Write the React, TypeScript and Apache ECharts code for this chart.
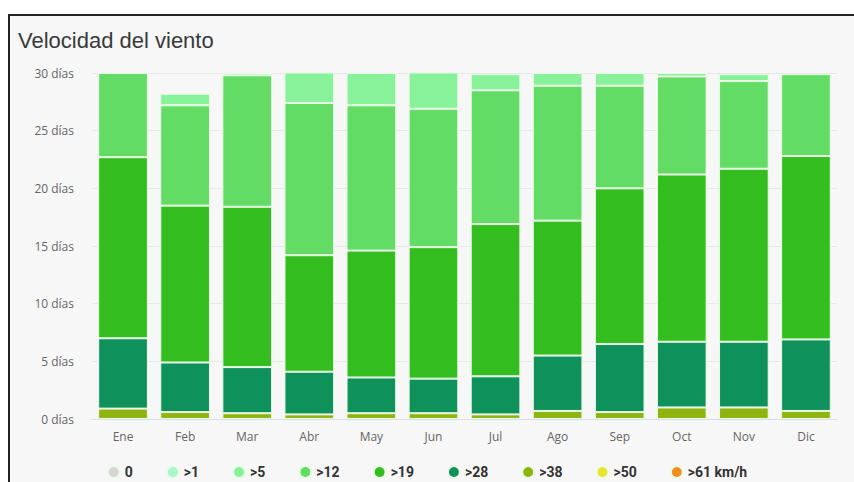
import React, { useEffect, useRef } from "react";
import * as echarts from "echarts";

const months = ["Ene", "Feb", "Mar", "Abr", "May", "Jun", "Jul", "Ago", "Sep", "Oct", "Nov", "Dic"];

// Days per month in each wind-speed class (km/h)
const calm0 = [0, 0, 0, 0, 0, 0, 0, 0, 0, 0, 0, 0];
const over1 = [0, 0, 0, 0, 0, 0, 0, 0, 0, 0, 0, 0];
const over5 = [0, 1.0, 0.2, 2.7, 2.8, 3.2, 1.4, 1.1, 1.1, 0.3, 0.6, 0];
const over12 = [7.3, 8.7, 11.4, 13.2, 12.6, 12.0, 11.6, 11.7, 8.9, 8.5, 7.6, 7.1];
const over19 = [15.7, 13.6, 13.9, 10.1, 11.0, 11.4, 13.2, 11.7, 13.5, 14.5, 15.0, 15.9];
const over28 = [6.1, 4.3, 4.0, 3.7, 3.1, 3.0, 3.3, 4.8, 5.9, 5.7, 5.7, 6.2];
const over38 = [0.9, 0.6, 0.5, 0.4, 0.5, 0.5, 0.4, 0.7, 0.6, 1.0, 1.0, 0.7];
const over50 = [0, 0, 0, 0, 0, 0, 0, 0, 0, 0, 0, 0];
const over61 = [0, 0, 0, 0, 0, 0, 0, 0, 0, 0, 0, 0];

const legendNames = ["0", ">1", ">5", ">12", ">19", ">28", ">38", ">50", ">61 km/h"];
const yTicks = [0, 5, 10, 15, 20, 25, 30];

const classes = [
  { name: ">61 km/h", data: over61, color: "#f0901c" },
  { name: ">50", data: over50, color: "#e6e62c" },
  { name: ">38", data: over38, color: "#8fb40f" },
  { name: ">28", data: over28, color: "#0f915c" },
  { name: ">19", data: over19, color: "#33bd1e" },
  { name: ">12", data: over12, color: "#63dc66" },
  { name: ">5", data: over5, color: "#88f29b" },
  { name: ">1", data: over1, color: "#a8f5cc" },
  { name: "0", data: calm0, color: "#d6d6d6" },
];

export default function App() {
  const ref = useRef<HTMLDivElement>(null);
  useEffect(() => {
    if (!ref.current) return;
    const chart = echarts.init(ref.current, null, { renderer: "svg" });
    chart.setOption({
      animation: false,
      backgroundColor: "#ffffff",
      graphic: [
        { type: "rect", shape: { x: 10, y: 16, width: 844, height: 466 }, style: { fill: "#f7f7f7" }, z: -10 },
        { type: "line", shape: { x1: 8, y1: 15, x2: 854, y2: 15 }, style: { stroke: "#222", lineWidth: 2 }, z: -5 },
        { type: "line", shape: { x1: 9, y1: 15, x2: 9, y2: 482 }, style: { stroke: "#222", lineWidth: 2 }, z: -5 },
      ],
      title: {
        text: "Velocidad del viento",
        left: 18,
        top: 29,
        padding: 0,
        textStyle: { fontFamily: "Liberation Sans", fontSize: 22, fontWeight: "normal", color: "#3a3a3a" },
      },
      legend: {
        data: legendNames,
        top: 465,
        left: "center",
        padding: 0,
        icon: "circle",
        itemWidth: 12,
        itemHeight: 12,
        itemGap: 33,
        textStyle: { fontFamily: "Liberation Sans Narrow, Roboto, sans-serif", fontSize: 14, fontWeight: "bold", color: "#333333" },
      },
      grid: { left: 92, right: 17, top: 73, bottom: 63 },
      xAxis: {
        type: "category",
        data: months,
        axisLine: { lineStyle: { color: "#d8dde6" } },
        axisTick: { alignWithLabel: true, length: 9, lineStyle: { color: "#d8dde6" } },
        axisLabel: { color: "#666666", fontFamily: "Open Sans", fontSize: 12, margin: 11 },
      },
      yAxis: {
        type: "value",
        min: 0,
        max: 30,
        interval: 5,
        axisLabel: {
          color: "#666666",
          fontFamily: "Open Sans",
          fontSize: 12,
          margin: 18,
          formatter: (v: number) => (yTicks.includes(v) ? `${v} días` : ""),
        },
        splitLine: { lineStyle: { color: "#e8e8e8" } },
        axisLine: { show: false },
        axisTick: { show: false },
      },
      series: classes.map((c) => ({
        name: c.name,
        type: "bar",
        stack: "total",
        barWidth: "80%",
        data: c.data.map((v) => (v === 0 ? null : v)),
        itemStyle: { color: c.color, borderColor: "#eafbe6", borderWidth: 1 },
      })),
      color: classes.map((c) => c.color),
    });
    return () => chart.dispose();
  }, []);
  return <div ref={ref} style={{ position: "fixed", left: 0, top: 0, width: 854, height: 482 }} />;
}
